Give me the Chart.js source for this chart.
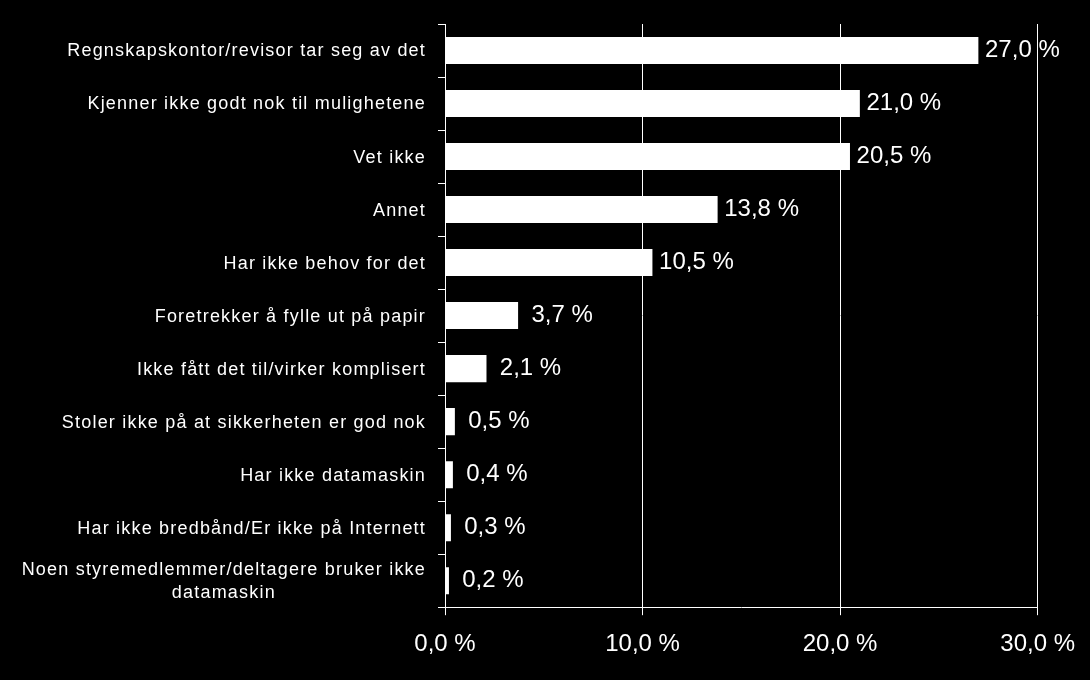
<!DOCTYPE html>
<html>
<head>
<meta charset="utf-8">
<script src="https://cdn.jsdelivr.net/npm/chart.js@4"></script>
<style>
  html, body { margin: 0; padding: 0; background: #000; }
  #wrap { width: 1090px; height: 680px; }
</style>
</head>
<body>
<div id="wrap"><canvas id="arsakChart" width="1090" height="680"></canvas></div>
<script>
// kategorier og verdier (prosent)
const categories = [
  'Regnskapskontor/revisor tar seg av det',
  'Kjenner ikke godt nok til mulighetene',
  'Vet ikke',
  'Annet',
  'Har ikke behov for det',
  'Foretrekker å fylle ut på papir',
  'Ikke fått det til/virker komplisert',
  'Stoler ikke på at sikkerheten er god nok',
  'Har ikke datamaskin',
  'Har ikke bredbånd/Er ikke på Internett',
  ['Noen styremedlemmer/deltagere bruker ikke', 'datamaskin']
];
const values = [27.0, 21.0, 20.5, 13.8, 10.5, 3.7, 2.1, 0.5, 0.4, 0.3, 0.2];
const xTicks = [0, 10, 20, 30];

const fontFamily = '"Liberation Sans", Arial, sans-serif';
const fmt = v => v.toFixed(1).replace('.', ',') + ' %';

// tegner kategoritekster selv, slik at to-linjers tekst blir sentrert
const categoryLabels = {
  id: 'categoryLabels',
  afterDraw(chart) {
    const ctx = chart.ctx;
    const y = chart.scales.y;
    const right = y.right - 19;
    ctx.save();
    ctx.fillStyle = '#fff';
    ctx.font = '18px ' + fontFamily;
    ctx.letterSpacing = '1.2px';
    ctx.textBaseline = 'middle';
    ctx.textAlign = 'center';
    categories.forEach((lab, i) => {
      const lines = Array.isArray(lab) ? lab : [lab];
      const w = Math.max(...lines.map(l => ctx.measureText(l).width));
      const cy = y.getPixelForValue(i) + 1;
      const lh = 23;
      lines.forEach((l, k) => {
        ctx.fillText(l, right - w / 2, cy + (k - (lines.length - 1) / 2) * lh);
      });
    });
    ctx.restore();
  }
};

// verdietiketter utenfor enden av stolpene
const valueLabels = {
  id: 'valueLabels',
  afterDatasetsDraw(chart) {
    const ctx = chart.ctx;
    const meta = chart.getDatasetMeta(0);
    ctx.save();
    ctx.fillStyle = '#fff';
    ctx.font = '24px ' + fontFamily;
    ctx.textBaseline = 'middle';
    ctx.textAlign = 'center';
    meta.data.forEach((bar, i) => {
      ctx.fillText(fmt(values[i]), bar.x + 44, bar.y);
    });
    ctx.restore();
  }
};

const ctx = document.getElementById('arsakChart').getContext('2d');
const arsakChart = new Chart(ctx, {
  type: 'bar',
  data: {
    labels: categories,
    datasets: [{
      data: values,
      backgroundColor: '#fff',
      borderWidth: 0,
      barPercentage: 0.51,
      categoryPercentage: 1
    }]
  },
  options: {
    indexAxis: 'y',
    responsive: false,
    animation: false,
    layout: { padding: { left: 438, right: 52, top: 24, bottom: 6 } },
    plugins: {
      legend: { display: false },
      tooltip: { enabled: false }
    },
    scales: {
      x: {
        min: 0,
        max: 30,
        afterBuildTicks: axis => { axis.ticks = xTicks.map(v => ({ value: v })); },
        grid: { color: '#fff', lineWidth: 1, tickLength: 8, drawTicks: true },
        border: { color: '#fff', width: 1 },
        ticks: {
          color: '#fff',
          padding: 15,
          font: { family: fontFamily, size: 24 },
          callback: v => fmt(v)
        }
      },
      y: {
        grid: { offset: true, drawOnChartArea: false, drawTicks: true, tickLength: 7, color: '#fff' },
        border: { color: '#fff', width: 1 },
        ticks: { display: false }
      }
    }
  },
  plugins: [categoryLabels, valueLabels]
});
</script>
</body>
</html>
